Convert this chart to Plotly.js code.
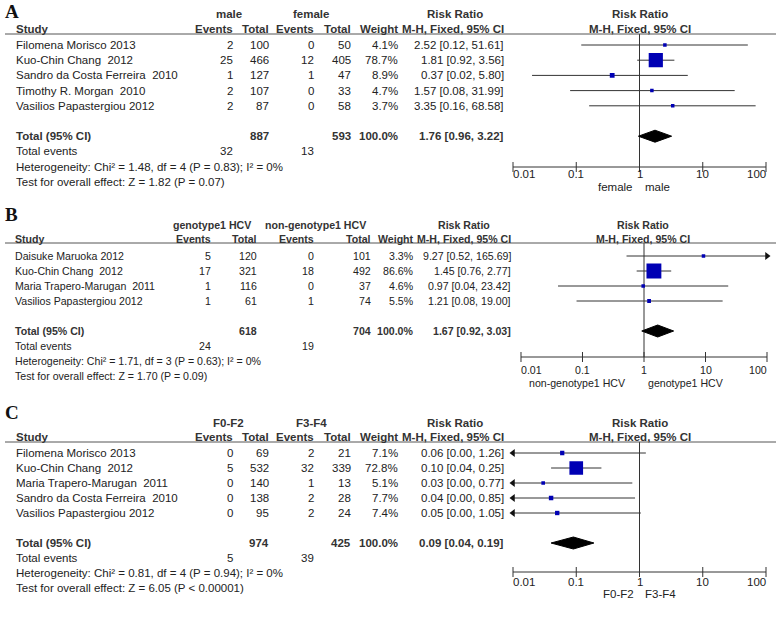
<!DOCTYPE html>
<html><head><meta charset="utf-8">
<script src="https://cdn.plot.ly/plotly-3.0.1.min.js"></script>
<style>html,body{margin:0;padding:0;background:#fff}#chart{width:784px;height:619px}</style>
</head><body><div id="chart"></div>
<script>
// ---------------- DATA ----------------
// Panel A: male vs female
const A_groups = ["male", "female"];
const A_footer = ["female", "male"];
const A_studies = ["Filomena Morisco 2013", "Kuo-Chin Chang  2012", "Sandro da Costa Ferreira  2010", "Timothy R. Morgan  2010", "Vasilios Papastergiou 2012"];
const A_ev1 = [2, 25, 1, 2, 2];
const A_tot1 = [100, 466, 127, 107, 87];
const A_ev2 = [0, 12, 1, 0, 0];
const A_tot2 = [50, 405, 47, 33, 58];
const A_weight = [4.1, 78.7, 8.9, 4.7, 3.7];
const A_rr = [2.52, 1.81, 0.37, 1.57, 3.35];
const A_lo = [0.12, 0.92, 0.02, 0.08, 0.16];
const A_hi = [51.61, 3.56, 5.80, 31.99, 68.58];
const A_totalRR = [1.76, 0.96, 3.22];
const A_totals = [887, 593];
const A_events = [32, 13];
const A_het = "Heterogeneity: Chi² = 1.48, df = 4 (P = 0.83); I² = 0%";
const A_test = "Test for overall effect: Z = 1.82 (P = 0.07)";

// Panel B: genotype1 HCV vs non-genotype1 HCV
const B_groups = ["genotype1 HCV", "non-genotype1 HCV"];
const B_footer = ["non-genotype1 HCV", "genotype1 HCV"];
const B_studies = ["Daisuke Maruoka 2012", "Kuo-Chin Chang  2012", "Maria Trapero-Marugan  2011", "Vasilios Papastergiou 2012"];
const B_ev1 = [5, 17, 1, 1];
const B_tot1 = [120, 321, 116, 61];
const B_ev2 = [0, 18, 0, 1];
const B_tot2 = [101, 492, 37, 74];
const B_weight = [3.3, 86.6, 4.6, 5.5];
const B_rr = [9.27, 1.45, 0.97, 1.21];
const B_lo = [0.52, 0.76, 0.04, 0.08];
const B_hi = [165.69, 2.77, 23.42, 19.00];
const B_totalRR = [1.67, 0.92, 3.03];
const B_totals = [618, 704];
const B_events = [24, 19];
const B_het = "Heterogeneity: Chi² = 1.71, df = 3 (P = 0.63); I² = 0%";
const B_test = "Test for overall effect: Z = 1.70 (P = 0.09)";

// Panel C: F0-F2 vs F3-F4
const C_groups = ["F0-F2", "F3-F4"];
const C_footer = ["F0-F2", "F3-F4"];
const C_studies = ["Filomena Morisco 2013", "Kuo-Chin Chang  2012", "Maria Trapero-Marugan  2011", "Sandro da Costa Ferreira  2010", "Vasilios Papastergiou 2012"];
const C_ev1 = [0, 5, 0, 0, 0];
const C_tot1 = [69, 532, 140, 138, 95];
const C_ev2 = [2, 32, 1, 2, 2];
const C_tot2 = [21, 339, 13, 28, 24];
const C_weight = [7.1, 72.8, 5.1, 7.7, 7.4];
const C_rr = [0.06, 0.10, 0.03, 0.04, 0.05];
const C_lo = [0.00, 0.04, 0.00, 0.00, 0.00];
const C_hi = [1.26, 0.25, 0.77, 0.85, 1.05];
const C_totalRR = [0.09, 0.04, 0.19];
const C_totals = [974, 425];
const C_events = [5, 39];
const C_het = "Heterogeneity: Chi² = 0.81, df = 4 (P = 0.94); I² = 0%";
const C_test = "Test for overall effect: Z = 6.05 (P < 0.00001)";

const tickVals = [0.01, 0.1, 1, 10, 100];
const tickText = ["0.01", "0.1", "1", "10", "100"];

// ---------------- LAYOUT / DRAWING ----------------
const W = 784, H = 619;
const FONT = '"Liberation Sans", Arial, sans-serif';
const TXT = '#222';
const HEAD = '#333';
const BLUE = '#0000b4';
const LINE = '#333';

const ann = [], traces = [], shapes = [];
const layout = {
  width: W, height: H, margin: {l: 0, r: 0, t: 0, b: 0},
  paper_bgcolor: '#fff', plot_bgcolor: 'rgba(0,0,0,0)', showlegend: false,
  annotations: ann, shapes: shapes
};

let FS = 11;
function T(text, xPx, yPx, xanchor, o) {
  o = o || {};
  ann.push({
    text: text, x: xPx / W, y: 1 - yPx / H, xref: 'paper', yref: 'paper',
    xanchor: xanchor, yanchor: 'middle', showarrow: false, borderpad: 0, borderwidth: 0,
    font: {family: o.family || FONT, size: o.size || FS, color: o.color || TXT}
  });
}

const fmt2 = v => v.toFixed(2);
const ciText = (r, l, h) => fmt2(r) + ' [' + fmt2(l) + ', ' + fmt2(h) + ']';

function panel(k, d, g) {
  FS = g.fs;
  const xa = k === 1 ? 'x' : 'x' + k;
  const ya = k === 1 ? 'y' : 'y' + k;
  const rowPx = i => g.row0 + i * g.sp;
  const pxRow = p => (p - g.row0) / g.sp;
  const n = d.studies.length;
  const totIdx = n + 1;

  // axes (hidden; used only as scales)
  const dec = (g.x1 - g.x0) / 4;
  const pad = 0.12;
  const domTop = g.linePx - 1, domBot = g.axisPx + 8;
  layout[k === 1 ? 'xaxis' : 'xaxis' + k] = {
    type: 'log', range: [-2 - pad, 2 + pad], anchor: ya, visible: false, fixedrange: true,
    domain: [(g.x0 - pad * dec) / W, (g.x1 + pad * dec) / W]
  };
  layout[k === 1 ? 'yaxis' : 'yaxis' + k] = {
    range: [pxRow(domBot), pxRow(domTop)], anchor: xa, visible: false, fixedrange: true,
    domain: [1 - domBot / H, 1 - domTop / H]
  };

  const axisRow = pxRow(g.axisPx);
  const lineRow = pxRow(g.linePx);
  const tickHalf = 5 / g.sp;

  // vertical line of no effect
  traces.push({type: 'scatter', mode: 'lines', x: [1, 1], y: [lineRow, axisRow], xaxis: xa, yaxis: ya,
    line: {color: LINE, width: 1}, hoverinfo: 'skip'});
  // axis line + ticks
  const ax = [tickVals[0], tickVals[tickVals.length - 1], null], ay = [axisRow, axisRow, null];
  tickVals.forEach(v => { ax.push(v, v, null); ay.push(axisRow - tickHalf, axisRow + tickHalf, null); });
  traces.push({type: 'scatter', mode: 'lines', x: ax, y: ay, xaxis: xa, yaxis: ya,
    line: {color: LINE, width: 1}, hoverinfo: 'skip'});
  tickVals.forEach((v, i) => {
    ann.push({text: tickText[i], x: Math.log10(v), xref: xa, y: 1 - g.labelPx / H, yref: 'paper',
      xanchor: i === 0 ? 'left' : (i === tickVals.length - 1 ? 'right' : 'center'), yanchor: 'middle',
      showarrow: false, borderpad: 0, borderwidth: 0, font: {family: FONT, size: g.fs, color: TXT}});
  });

  // CI lines
  const lx = [], ly = [];
  const arL = [], arLy = [], arR = [], arRy = [];
  const lmin = tickVals[0], lmax = tickVals[tickVals.length - 1];
  d.studies.forEach((s, i) => {
    const lo = Math.max(d.lo[i], lmin), hi = Math.min(d.hi[i], lmax);
    lx.push(lo, hi, null); ly.push(i, i, null);
    if (d.lo[i] < lmin) { arL.push(lmin); arLy.push(i); }
    if (d.hi[i] > lmax) { arR.push(lmax); arRy.push(i); }
  });
  traces.push({type: 'scatter', mode: 'lines', x: lx, y: ly, xaxis: xa, yaxis: ya,
    line: {color: LINE, width: 1}, hoverinfo: 'skip'});
  if (arL.length) traces.push({type: 'scatter', mode: 'markers', x: arL, y: arLy, xaxis: xa, yaxis: ya, cliponaxis: false,
    marker: {symbol: 'triangle-left', size: 7, color: '#111', opacity: 1}, hoverinfo: 'skip'});
  if (arR.length) traces.push({type: 'scatter', mode: 'markers', x: arR, y: arRy, xaxis: xa, yaxis: ya, cliponaxis: false,
    marker: {symbol: 'triangle-right', size: 7, color: '#111', opacity: 1}, hoverinfo: 'skip'});

  // study squares (area proportional to weight)
  traces.push({type: 'scatter', mode: 'markers', x: d.rr, y: d.studies.map((s, i) => i), xaxis: xa, yaxis: ya,
    marker: {symbol: 'square', color: BLUE, opacity: 1, size: d.weight.map(w => Math.max(3.5, 1.6 * Math.sqrt(w))), line: {width: 0}},
    hoverinfo: 'skip'});

  // pooled diamond
  const dh = 6 / g.sp;
  const [tr, tl, th] = d.totalRR;
  traces.push({type: 'scatter', mode: 'lines', fill: 'toself', fillcolor: '#000',
    x: [tl, tr, th, tr, tl], y: [totIdx, totIdx - dh, totIdx, totIdx + dh, totIdx], xaxis: xa, yaxis: ya,
    line: {color: '#000', width: 1}, hoverinfo: 'skip'});

  // header line
  shapes.push({type: 'line', xref: 'paper', yref: 'paper', x0: 5 / W, x1: 776 / W,
    y0: 1 - g.linePx / H, y1: 1 - g.linePx / H, line: {color: '#555', width: 1}});

  // letter
  T('<b>' + g.letter + '</b>', 5, g.letterPx, 'left', {family: '"Liberation Serif", "Times New Roman", serif', size: 19, color: '#111'});

  // headers
  const c = g.col;
  T('<b>' + d.groups[0] + '</b>', c.g1, g.groupPx, 'center', {color: HEAD});
  T('<b>' + d.groups[1] + '</b>', c.g2, g.groupPx, 'center', {color: HEAD});
  T('<b>Risk Ratio</b>', c.rr, g.groupPx, 'center', {color: HEAD});
  T('<b>Risk Ratio</b>', g.oneX, g.groupPx, 'center', {color: HEAD});
  T('<b>Study</b>', c.study, g.headPx, 'left', {color: HEAD});
  T('<b>Events</b>', c.ev1, g.headPx, 'right', {color: HEAD});
  T('<b>Total</b>', c.tot1, g.headPx, 'right', {color: HEAD});
  T('<b>Events</b>', c.ev2, g.headPx, 'right', {color: HEAD});
  T('<b>Total</b>', c.tot2, g.headPx, 'right', {color: HEAD});
  T('<b>Weight</b>', c.w, g.headPx, 'right', {color: HEAD});
  T('<b>M-H, Fixed, 95% CI</b>', c.ci, g.headPx, 'right', {color: HEAD});
  T('<b>M-H, Fixed, 95% CI</b>', g.oneX, g.headPx, 'center', {color: HEAD});

  // rows
  d.studies.forEach((s, i) => {
    const y = rowPx(i);
    T(s, c.study, y, 'left');
    T(String(d.ev1[i]), c.ev1, y, 'right');
    T(String(d.tot1[i]), c.tot1, y, 'right');
    T(String(d.ev2[i]), c.ev2, y, 'right');
    T(String(d.tot2[i]), c.tot2, y, 'right');
    T(d.weight[i].toFixed(1) + '%', c.w, y, 'right');
    T(ciText(d.rr[i], d.lo[i], d.hi[i]), c.ci, y, 'right');
  });
  const yt = rowPx(totIdx);
  const totalW = d.weight.reduce((a, b) => a + b, 0);
  T('<b>Total (95% CI)</b>', c.study, yt, 'left', {color: HEAD});
  T('<b>' + d.totals[0] + '</b>', c.tot1, yt, 'right', {color: HEAD});
  T('<b>' + d.totals[1] + '</b>', c.tot2, yt, 'right', {color: HEAD});
  T('<b>' + (Math.round(totalW / 10) * 10).toFixed(1) + '%</b>', c.w, yt, 'right', {color: HEAD});
  T('<b>' + ciText(tr, tl, th) + '</b>', c.ci, yt, 'right', {color: HEAD});
  T('Total events', c.study, rowPx(totIdx + 1), 'left');
  T(String(d.events[0]), c.ev1, rowPx(totIdx + 1), 'right');
  T(String(d.events[1]), c.ev2, rowPx(totIdx + 1), 'right');
  T(d.het, c.study, rowPx(totIdx + 2), 'left');
  T(d.test, c.study, rowPx(totIdx + 3), 'left');

  // footer labels under the axis
  T(d.footer[0], g.footL, g.footPx, 'right');
  T(d.footer[1], g.footR, g.footPx, 'left');
}

const colAC = {study: 16, ev1: 233, tot1: 269, ev2: 314, tot2: 351, w: 398, ci: 504, g1: 229, g2: 311, rr: 455};
const colB = {study: 15, ev1: 211, tot1: 257, ev2: 314, tot2: 371, w: 414, ci: 511, g1: 212, g2: 315, rr: 464};

panel(1, {studies: A_studies, ev1: A_ev1, tot1: A_tot1, ev2: A_ev2, tot2: A_tot2, weight: A_weight, rr: A_rr, lo: A_lo, hi: A_hi,
  totalRR: A_totalRR, totals: A_totals, events: A_events, het: A_het, test: A_test, groups: A_groups, footer: A_footer},
  {letter: 'A', letterPx: 12, groupPx: 14, headPx: 29, linePx: 34, row0: 45, sp: 15.2, axisPx: 167, labelPx: 174, footPx: 187,
   x0: 513, x1: 766, oneX: 640, footL: 633, footR: 645, col: colAC, fs: 11.5});
panel(2, {studies: B_studies, ev1: B_ev1, tot1: B_tot1, ev2: B_ev2, tot2: B_tot2, weight: B_weight, rr: B_rr, lo: B_lo, hi: B_hi,
  totalRR: B_totalRR, totals: B_totals, events: B_events, het: B_het, test: B_test, groups: B_groups, footer: B_footer},
  {letter: 'B', letterPx: 215, groupPx: 225, headPx: 239, linePx: 243, row0: 256, sp: 15, axisPx: 357, labelPx: 370, footPx: 383,
   x0: 521, x1: 767, oneX: 643, footL: 626, footR: 648, col: colB, fs: 10.6});
panel(3, {studies: C_studies, ev1: C_ev1, tot1: C_tot1, ev2: C_ev2, tot2: C_tot2, weight: C_weight, rr: C_rr, lo: C_lo, hi: C_hi,
  totalRR: C_totalRR, totals: C_totals, events: C_events, het: C_het, test: C_test, groups: C_groups, footer: C_footer},
  {letter: 'C', letterPx: 412, groupPx: 423, headPx: 437, linePx: 442, row0: 453, sp: 15, axisPx: 572, labelPx: 582, footPx: 594,
   x0: 513, x1: 766, oneX: 640, footL: 634, footR: 645, col: colAC, fs: 11.5});

Plotly.newPlot('chart', traces, layout, {displayModeBar: false, staticPlot: true});
</script>
</body></html>
